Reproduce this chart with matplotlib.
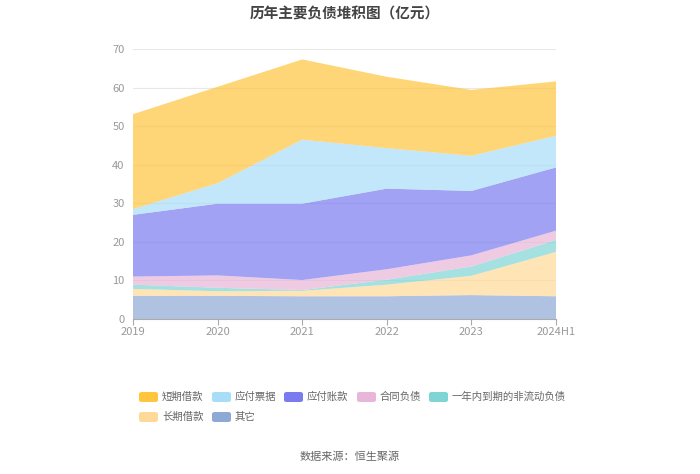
import matplotlib
matplotlib.use("Agg")
import matplotlib.pyplot as plt
from matplotlib.patches import FancyBboxPatch

plt.rcParams['font.family'] = ['Noto Sans CJK SC', 'DejaVu Sans']

# Data (亿元)
years = ["2019", "2020", "2021", "2022", "2023", "2024H1"]
other = [6.0, 6.0, 5.9, 5.9, 6.2, 5.9]
long_loans = [1.8, 1.2, 1.4, 3.0, 5.0, 11.5]
current_noncurrent = [1.1, 0.9, 0.2, 1.3, 2.4, 3.1]
contract = [2.1, 3.2, 2.6, 2.7, 2.9, 2.4]
accounts_payable = [16.0, 18.6, 19.8, 20.9, 16.7, 16.4]
notes_payable = [1.5, 5.3, 16.6, 10.5, 9.1, 8.2]
short_loans = [24.6, 25.0, 20.8, 18.5, 17.1, 14.1]

# stacking order bottom -> top
series = [
    ("其它", other, "#8FA9D6"),
    ("长期借款", long_loans, "#FFD998"),
    ("一年内到期的非流动负债", current_noncurrent, "#7FD5D5"),
    ("合同负债", contract, "#E8B6D8"),
    ("应付账款", accounts_payable, "#7B7BF0"),
    ("应付票据", notes_payable, "#A8DDF8"),
    ("短期借款", short_loans, "#FFC53D"),
]

# legend order as in the picture
legend_order = ["短期借款", "应付票据", "应付账款", "合同负债", "一年内到期的非流动负债",
                "长期借款", "其它"]

fig = plt.figure(figsize=(7, 4.74), dpi=100)
ax = fig.add_axes([133/700, 1 - 319/474, (556 - 133)/700, (319 - 49)/474])

x = list(range(len(years)))
ax.stackplot(x, *[s[1] for s in series], colors=[s[2] for s in series],
             alpha=0.7, linewidth=0)

ax.set_xlim(0, len(years) - 1)
ax.set_ylim(0, 70)
ax.set_yticks(range(0, 71, 10))
ax.set_xticks(x)
ax.set_xticklabels(years)
ax.grid(axis="y", color="#E8E8E8", linewidth=0.8)
ax.set_axisbelow(True)
for side in ["top", "right", "left"]:
    ax.spines[side].set_visible(False)
ax.spines["bottom"].set_color("#AAAAAA")
ax.tick_params(axis="y", length=0, labelsize=8, colors="#999999", pad=6)
ax.tick_params(axis="x", length=4, color="#AAAAAA", labelsize=8, colors="#999999", pad=2)

fig.text(345/700, 1 - 13/474, "历年主要负债堆积图（亿元）", ha="center", va="center",
         fontsize=10.5, fontweight="bold", color="#444444")

# legend drawn by hand to keep the picture's layout
colors = {s[0]: s[2] for s in series}
positions = [(139, 397), (212, 397), (284, 397), (357, 397), (429, 397),
             (139, 417), (212, 417)]
for name, (px, py) in zip(legend_order, positions):
    fig.patches.append(FancyBboxPatch((px / 700, 1 - (py + 5) / 474), 19 / 700, 10 / 474,
                                      boxstyle="round,pad=0,rounding_size=0.004",
                                      transform=fig.transFigure, facecolor=colors[name],
                                      edgecolor="none"))
    fig.text((px + 23) / 700, 1 - py / 474, name, ha="left", va="center",
             fontsize=7.5, color="#666666")

fig.text(350/700, 1 - 457/474, "数据来源：恒生聚源", ha="center", va="center",
         fontsize=8, color="#666666")

fig.savefig("out.png", dpi=100)
